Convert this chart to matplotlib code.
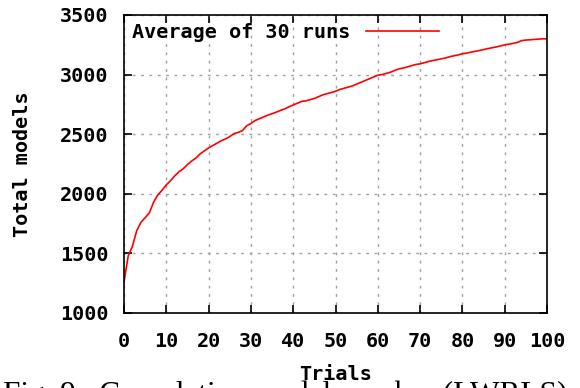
import matplotlib
matplotlib.use('Agg')
import matplotlib.pyplot as plt

trials = list(range(0, 101))
total_models = [
    1260, 1480, 1560, 1690, 1760, 1800, 1840, 1930, 1990, 2030,
    2075, 2110, 2150, 2185, 2210, 2245, 2275, 2300, 2335, 2360,
    2385, 2405, 2425, 2445, 2460, 2480, 2505, 2515, 2530, 2570,
    2590, 2615, 2630, 2645, 2660, 2672, 2685, 2700, 2712, 2730,
    2745, 2760, 2775, 2780, 2790, 2800, 2815, 2830, 2840, 2850,
    2860, 2875, 2885, 2895, 2905, 2920, 2935, 2950, 2965, 2980,
    2995, 3000, 3010, 3020, 3035, 3048, 3055, 3065, 3075, 3085,
    3090, 3100, 3110, 3118, 3125, 3132, 3140, 3150, 3158, 3165,
    3175, 3180, 3188, 3195, 3202, 3210, 3218, 3225, 3232, 3240,
    3250, 3255, 3262, 3270, 3285, 3290, 3292, 3295, 3298, 3300,
    3300,
]
x_ticks = [0, 10, 20, 30, 40, 50, 60, 70, 80, 90, 100]
y_ticks = [1000, 1500, 2000, 2500, 3000, 3500]

mono = 'DejaVu Sans Mono'
fs = 14.5

W, H = 580, 388
fig = plt.figure(figsize=(W / 100, H / 100), dpi=100)
ax = fig.add_axes([124 / W, (H - 313) / H, 423 / W, 298 / H])

ax.plot(trials, total_models, color='#ff0000', lw=1.2, label='Average of 30 runs')

ax.set_xlim(0, 100)
ax.set_ylim(1000, 3500)
ax.set_xticks(x_ticks)
ax.set_yticks(y_ticks)
ax.grid(True, color='#a0a0a0', linestyle=(0, (2, 4)), lw=1)
ax.set_axisbelow(True)
for s in ax.spines.values():
    s.set_linewidth(1.2)
ax.tick_params(direction='in', length=6, width=1.2, top=True, right=True)
ax.tick_params(axis='x', pad=14)
ax.tick_params(axis='y', pad=11)
for lab in ax.get_xticklabels() + ax.get_yticklabels():
    lab.set_family(mono)
    lab.set_weight('bold')
    lab.set_fontsize(fs)

ax.set_xlabel('Trials', family=mono, weight='bold', fontsize=fs, labelpad=10)
ax.set_ylabel('Total models', family=mono, weight='bold', fontsize=fs, labelpad=20)

ax.legend(loc='upper left', frameon=False, markerfirst=False,
          prop={'family': mono, 'weight': 'bold', 'size': fs},
          handlelength=3.6, borderaxespad=0.1, borderpad=0.3)

fig.text(0.005, 1 - 381 / H, 'Fig. 9.  Cumulative model number (LWRLS)',
         family='Liberation Serif', fontsize=22.5, ha='left', va='top')

fig.savefig('out.png', dpi=100)
